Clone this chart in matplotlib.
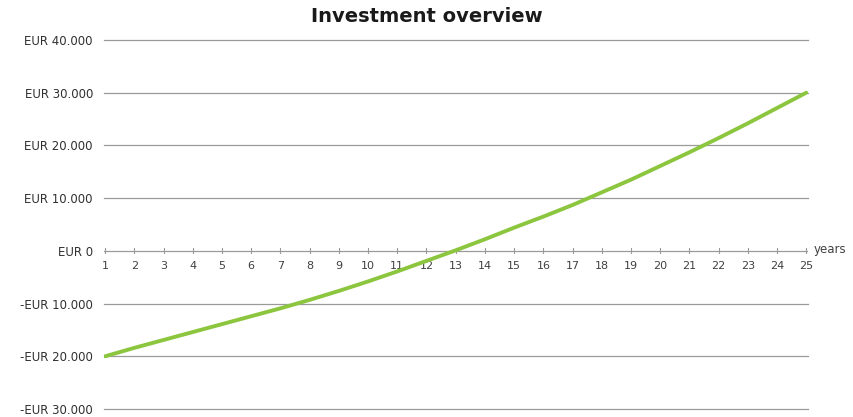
import matplotlib.pyplot as plt
import numpy as np

# investment balance per year
years = list(range(1, 26))
balance = [-20000, -18400, -16900, -15400, -13900, -12400, -10900, -9300,
           -7600, -5800, -3900, -1900, 100, 2200, 4400, 6500, 8700, 11100,
           13500, 16100, 18700, 21400, 24200, 27100, 30000]

y_ticks = [-30000, -20000, -10000, 0, 10000, 20000, 30000, 40000]


def eur(v):
    s = "{:,}".format(abs(v)).replace(",", ".")
    if v < 0:
        return "-EUR " + s
    if v == 0:
        return "EUR 0"
    return "EUR " + s


fig = plt.figure(figsize=(8.54, 4.17), dpi=100)
ax = fig.add_axes([104 / 854, 1 - 409 / 417, (808 - 104) / 854, (409 - 40) / 417])

ax.set_xlim(0.96, 25.06)
ax.set_ylim(-30000, 40000)

grid_col = "#9a9a9a"

# horizontal gridlines
for v in y_ticks:
    if v != 0:
        ax.axhline(v, color=grid_col, lw=0.9, zorder=1, clip_on=False)

# category axis sits at zero
ax.axhline(0, color=grid_col, lw=0.9, zorder=2)
for x in years:
    ax.plot([x, x], [-450, 450], color=grid_col, lw=0.8, zorder=2)
    ax.text(x, -2900, str(x), ha="center", va="center", fontsize=8,
            color="#404040")
ax.text(25.25, 300, "years", ha="left", va="center", fontsize=8.5,
        color="#404040", clip_on=False)

ax.plot(years, balance, color="#8cc63f", lw=2.8, solid_capstyle="round",
        zorder=3)

ax.set_yticks(y_ticks)
ax.set_yticklabels([eur(v) for v in y_ticks], fontsize=8.5, color="#303030")
ax.tick_params(axis="y", length=0, pad=8)
ax.set_xticks([])
for s in ax.spines.values():
    s.set_visible(False)

fig.text(0.5, 1 - 16 / 417, "Investment overview", ha="center", va="center",
         fontsize=14, fontweight="bold", color="#1a1a1a")

fig.savefig("out.png", dpi=100)
